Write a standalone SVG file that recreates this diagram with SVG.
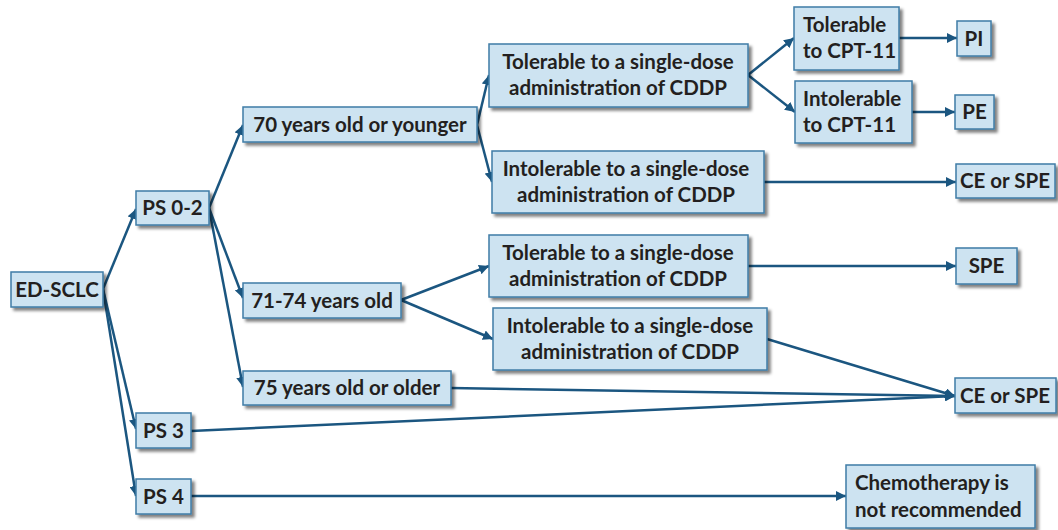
<svg xmlns="http://www.w3.org/2000/svg" width="1058" height="530" viewBox="0 0 1058 530">
<defs>
<filter id="sh" x="-10%" y="-10%" width="130%" height="140%">
<feGaussianBlur in="SourceAlpha" stdDeviation="1.5"/>
<feOffset dx="3" dy="3" result="o"/>
<feComponentTransfer><feFuncA type="linear" slope="0.5"/></feComponentTransfer>
<feMerge><feMergeNode/><feMergeNode in="SourceGraphic"/></feMerge>
</filter>
<marker id="ah" viewBox="0 0 10 10" refX="10" refY="5" markerWidth="4" markerHeight="4" orient="auto" markerUnits="strokeWidth">
<path d="M0,0 L10,5 L0,10 z" fill="#1b5680"/>
</marker>
</defs>
<style>
.b{fill:#cde3f1;stroke:#3f7ca6;stroke-width:1.5;filter:url(#sh)}
.t{font-family:Lato,"Open Sans","Liberation Sans",sans-serif;font-weight:bold;font-size:20.5px;fill:#231f20}
.c{text-anchor:middle}
.e{fill:none;stroke:#1b5680;stroke-width:2.5}
.a{marker-end:url(#ah)}
</style>
<rect width="1058" height="530" fill="#ffffff"/>
<g id="connectors">
<line class="e a" x1="103" y1="289" x2="136" y2="209"/>
<line class="e a" x1="103" y1="289" x2="136" y2="429"/>
<line class="e a" x1="103" y1="289" x2="136" y2="496"/>
<line class="e a" x1="209" y1="208" x2="243" y2="125"/>
<line class="e a" x1="209" y1="208" x2="243" y2="298"/>
<line class="e a" x1="209" y1="208" x2="243" y2="387"/>
<line class="e a" x1="477" y1="125" x2="489" y2="75"/>
<line class="e a" x1="477" y1="125" x2="492" y2="182"/>
<line class="e a" x1="748" y1="75" x2="794" y2="38"/>
<line class="e a" x1="748" y1="75" x2="795" y2="112"/>
<line class="e a" x1="899" y1="38" x2="957" y2="38"/>
<line class="e a" x1="912" y1="112" x2="955" y2="112"/>
<line class="e a" x1="764" y1="182" x2="956" y2="182"/>
<line class="e a" x1="401" y1="300" x2="489" y2="266"/>
<line class="e a" x1="401" y1="300" x2="493" y2="339"/>
<line class="e a" x1="748" y1="266" x2="956" y2="266"/>
<line class="e a" x1="767" y1="339" x2="955" y2="396"/>
<line class="e a" x1="451" y1="388" x2="955" y2="396"/>
<line class="e a" x1="191" y1="431" x2="955" y2="396"/>
<line class="e a" x1="191" y1="496" x2="846" y2="496"/>
</g>
<g id="ed-sclc"><rect class="b" x="11" y="272" width="92" height="35"/><text class="t c" x="57" y="297">ED-SCLC</text></g>
<g id="ps02"><rect class="b" x="136" y="191" width="73" height="34"/><text class="t c" x="172.5" y="215">PS 0-2</text></g>
<g id="ps3"><rect class="b" x="136" y="413" width="55" height="35"/><text class="t c" x="163.5" y="438">PS 3</text></g>
<g id="ps4"><rect class="b" x="136" y="479" width="55" height="35"/><text class="t c" x="163.5" y="504">PS 4</text></g>
<g id="age70"><rect class="b" x="243" y="107" width="234" height="35"/><text class="t c" x="360" y="132">70 years old or younger</text></g>
<g id="age7174"><rect class="b" x="243" y="283" width="158" height="35"/><text class="t c" x="322" y="308">71-74 years old</text></g>
<g id="age75"><rect class="b" x="243" y="371" width="208" height="34"/><text class="t c" x="347" y="395">75 years old or older</text></g>
<g id="tol1"><rect class="b" x="489" y="44" width="259" height="63"/><text class="t c" x="618" y="69">Tolerable to a single-dose</text><text class="t c" x="618" y="95">administration of CDDP</text></g>
<g id="intol1"><rect class="b" x="492" y="151" width="272" height="62"/><text class="t c" x="626" y="176">Intolerable to a single-dose</text><text class="t c" x="626" y="202">administration of CDDP</text></g>
<g id="tol2"><rect class="b" x="489" y="235" width="259" height="62"/><text class="t c" x="618" y="260">Tolerable to a single-dose</text><text class="t c" x="618" y="286">administration of CDDP</text></g>
<g id="intol2"><rect class="b" x="493" y="308" width="274" height="62"/><text class="t c" x="630" y="333">Intolerable to a single-dose</text><text class="t c" x="630" y="359">administration of CDDP</text></g>
<g id="tolcpt"><rect class="b" x="794" y="7" width="105" height="63"/><text class="t" x="803" y="32">Tolerable</text><text class="t" x="803" y="58">to CPT-11</text></g>
<g id="intolcpt"><rect class="b" x="795" y="81" width="117" height="62"/><text class="t" x="803" y="106">Intolerable</text><text class="t" x="803" y="132">to CPT-11</text></g>
<g id="pi"><rect class="b" x="957" y="21" width="34" height="35"/><text class="t c" x="974" y="46">PI</text></g>
<g id="pe"><rect class="b" x="955" y="95" width="39" height="34"/><text class="t c" x="974.5" y="119">PE</text></g>
<g id="cespe1"><rect class="b" x="956" y="164" width="99" height="34"/><text class="t c" x="1005" y="188">CE or SPE</text></g>
<g id="spe"><rect class="b" x="956" y="248" width="61" height="36"/><text class="t c" x="986.5" y="273">SPE</text></g>
<g id="cespe2"><rect class="b" x="955" y="378" width="101" height="35"/><text class="t c" x="1005" y="403">CE or SPE</text></g>
<g id="chemo"><rect class="b" x="846" y="465" width="189" height="63"/><text class="t" x="855" y="490">Chemotherapy is</text><text class="t" x="855" y="517">not recommended</text></g>
</svg>
